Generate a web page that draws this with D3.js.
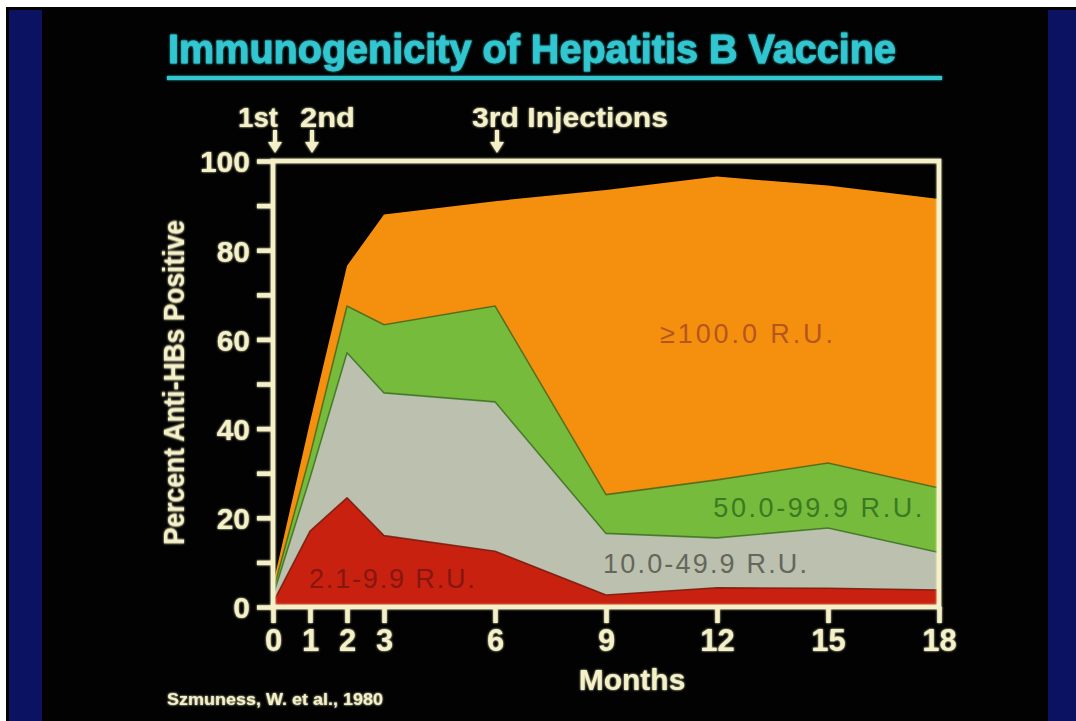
<!DOCTYPE html>
<html>
<head>
<meta charset="utf-8">
<script src="https://cdn.jsdelivr.net/npm/d3@7"></script>
<style>
  html, body { margin: 0; padding: 0; background: #ffffff; }
  svg { display: block; }
</style>
</head>
<body>
<svg id="chart" width="1076" height="721"></svg>
<script>
// ---- data ----
const months = [0, 1, 2, 3, 6, 9, 12, 15, 18];
const seriesNames = ["2.1-9.9 R.U.", "10.0-49.9 R.U.", "50.0-99.9 R.U.", "≥100.0 R.U."];
const lowRU   = [1.0, 17.0, 24.5, 16.0, 12.5, 2.7, 4.3, 4.2, 3.8];   // 2.1-9.9
const midRU   = [1.5, 12.0, 32.5, 32.0, 33.5, 13.8, 11.2, 13.5, 8.4]; // 10.0-49.9
const highRU  = [1.0, 5.0, 10.5, 15.3, 21.5, 8.7, 13.0, 14.6, 14.5];  // 50.0-99.9
const peakRU  = [1.5, 7.5, 9.0, 24.7, 23.5, 68.3, 68.0, 62.2, 64.8];  // >=100.0
const yTicks = [0, 10, 20, 30, 40, 50, 60, 70, 80, 90, 100];
const yTickLabels = ["0", "", "20", "", "40", "", "60", "", "80", "", "100"];
const xTickLabels = ["0", "1", "2", "3", "6", "9", "12", "15", "18"];
const injections = [
  { month: 0, label: "1st" },
  { month: 1, label: "2nd" },
  { month: 6, label: "3rd Injections" }
];
// label anchor positions in data units (month, percent)
const areaLabels = [
  { text: "2.1-9.9 R.U.",   month: 0.97, value: 4.3 },
  { text: "10.0-49.9 R.U.", month: 8.92, value: 7.6 },
  { text: "50.0-99.9 R.U.", month: 11.9, value: 20.2 },
  { text: "≥100.0 R.U.",    month: 10.46, value: 59.2 }
];
const titleText = "Immunogenicity of Hepatitis B Vaccine";
const yTitle = "Percent Anti-HBs Positive";
const xTitle = "Months";
const citation = "Szmuness, W. et al., 1980";

// ---- styling ----
const fills   = ["#c8210f", "#bcc0ae", "#76bb3c", "#f5900f"];
const edges   = ["#7a1a0c", "#3f7526", "#4f6a1c", "#f5900f"];
const labelCols = ["#861610", "#65675c", "#3b7a22", "#b5561c"];
const cream = "#f4f0c8";
const cyan = "#33c6d0";
const FONT = "'Liberation Sans', Arial, Helvetica, sans-serif";

const svg = d3.select("#chart");

// background: white page, black slide, navy side stripes
svg.append("rect").attr("x", 0).attr("y", 0).attr("width", 1076).attr("height", 721).attr("fill", "#ffffff");
svg.append("rect").attr("x", 6).attr("y", 7).attr("width", 1070).attr("height", 714).attr("fill", "#020202");
svg.append("rect").attr("x", 9).attr("y", 10).attr("width", 33).attr("height", 711).attr("fill", "#0b1262");
svg.append("rect").attr("x", 1048).attr("y", 10).attr("width", 28).attr("height", 711).attr("fill", "#0b1262");

// glow filter for slide text
const defs = svg.append("defs");
const glow = defs.append("filter").attr("id", "glow").attr("x", "-10%").attr("y", "-30%").attr("width", "120%").attr("height", "160%");
glow.append("feGaussianBlur").attr("in", "SourceGraphic").attr("stdDeviation", 1.2).attr("result", "b");
const merge = glow.append("feMerge");
merge.append("feMergeNode").attr("in", "b");
merge.append("feMergeNode").attr("in", "SourceGraphic");

// ---- scales ----
const x = d3.scaleLinear().domain([0, 18]).range([273, 939]);
const y = d3.scaleLinear().domain([0, 100]).range([607, 161]);

// ---- stacked data ----
const table = months.map((m, i) => ({
  month: m, s0: lowRU[i], s1: midRU[i], s2: highRU[i], s3: peakRU[i]
}));
const stack = d3.stack().keys(["s0", "s1", "s2", "s3"]);
const layers = stack(table);

const area = d3.area()
  .x(d => x(d.data.month))
  .y0(d => y(d[0]))
  .y1(d => y(d[1]))
  .curve(d3.curveLinear);
const topLine = d3.line()
  .x(d => x(d.data.month))
  .y(d => y(d[1]))
  .curve(d3.curveLinear);

const g = svg.append("g");
g.selectAll("path.area").data(layers).join("path")
  .attr("class", "area")
  .attr("d", area)
  .attr("fill", (d, i) => fills[i]);
g.selectAll("path.edge").data(layers.slice(0, 3)).join("path")
  .attr("class", "edge")
  .attr("d", topLine)
  .attr("fill", "none")
  .attr("stroke", (d, i) => edges[i])
  .attr("stroke-width", 1.6)
  .attr("stroke-linejoin", "round")
  .attr("opacity", 0.85);

// area labels
g.selectAll("text.alabel").data(areaLabels).join("text")
  .attr("class", "alabel")
  .attr("x", d => x(d.month))
  .attr("y", d => y(d.value))
  .attr("font-family", FONT)
  .attr("font-size", 27)
  .attr("fill", (d, i) => labelCols[i])
  .attr("textLength", (d, i) => [166, 204, 209, 173][i])
  .attr("lengthAdjust", "spacing")
  .text(d => d.text);

// ---- frame ----
svg.append("rect")
  .attr("x", x(0)).attr("y", y(100))
  .attr("width", x(18) - x(0)).attr("height", y(0) - y(100))
  .attr("fill", "none").attr("stroke", cream).attr("stroke-width", 4.5)
  .attr("filter", "url(#glow)");

// ---- axes ----
const yAxis = d3.axisLeft(y).tickValues(yTicks).tickSize(16).tickPadding(7)
  .tickFormat((d, i) => yTickLabels[i]);
const yg = svg.append("g").attr("transform", `translate(${x(0)},0)`).call(yAxis);
yg.select(".domain").remove();
yg.selectAll("line").attr("stroke", cream).attr("stroke-width", 4.5);
yg.selectAll("text").attr("fill", cream).attr("font-family", FONT).attr("font-weight", "bold")
  .attr("font-size", 30).attr("dy", "0.36em");
yg.attr("filter", "url(#glow)");

const xAxis = d3.axisBottom(x).tickValues(months).tickSize(16).tickPadding(6)
  .tickFormat((d, i) => xTickLabels[i]);
const xg = svg.append("g").attr("transform", `translate(0,${y(0)})`).call(xAxis);
xg.select(".domain").remove();
xg.selectAll("line").attr("stroke", cream).attr("stroke-width", 4.5);
xg.selectAll("text").attr("fill", cream).attr("font-family", FONT).attr("font-weight", "bold")
  .attr("font-size", 31).attr("dy", "0.72em");
xg.attr("filter", "url(#glow)");

// ---- injection markers ----
const inj = svg.append("g").attr("filter", "url(#glow)");
inj.selectAll("path.arrow").data(injections).join("path")
  .attr("class", "arrow")
  .attr("d", d => {
    const cx = x(d.month) + 2;
    return `M${cx - 2},130 L${cx + 2},130 L${cx + 2},142 L${cx + 7},142 L${cx},153 L${cx - 7},142 L${cx - 2},142 Z`;
  })
  .attr("fill", cream);
inj.selectAll("text").data(injections).join("text")
  .attr("x", (d, i) => [238, 300, 472][i])
  .attr("y", 127)
  .attr("font-family", FONT)
  .attr("font-weight", "bold")
  .attr("font-size", 28)
  .attr("fill", cream)
  .attr("textLength", (d, i) => [40, 55, 196][i])
  .attr("lengthAdjust", "spacingAndGlyphs")
  .text(d => d.label);

// ---- titles ----
svg.append("text")
  .attr("x", 168).attr("y", 63)
  .attr("font-family", FONT).attr("font-weight", "bold").attr("font-size", 40)
  .attr("fill", cyan).attr("stroke", cyan).attr("stroke-width", 0.8)
  .attr("textLength", 728).attr("lengthAdjust", "spacingAndGlyphs")
  .attr("filter", "url(#glow)")
  .text(titleText);
svg.append("rect").attr("x", 167).attr("y", 76).attr("width", 775).attr("height", 4)
  .attr("fill", cyan).attr("filter", "url(#glow)");

svg.append("text")
  .attr("transform", `translate(184,${(545 + 220) / 2}) rotate(-90)`)
  .attr("text-anchor", "middle")
  .attr("font-family", FONT).attr("font-weight", "bold").attr("font-size", 29)
  .attr("fill", cream)
  .attr("textLength", 325).attr("lengthAdjust", "spacingAndGlyphs")
  .attr("filter", "url(#glow)")
  .text(yTitle);

svg.append("text")
  .attr("x", 632).attr("y", 690)
  .attr("text-anchor", "middle")
  .attr("font-family", FONT).attr("font-weight", "bold").attr("font-size", 30)
  .attr("fill", cream)
  .attr("filter", "url(#glow)")
  .text(xTitle);

svg.append("text")
  .attr("x", 167).attr("y", 705)
  .attr("font-family", FONT).attr("font-weight", "bold").attr("font-size", 17)
  .attr("fill", cream)
  .attr("textLength", 216).attr("lengthAdjust", "spacingAndGlyphs")
  .attr("filter", "url(#glow)")
  .text(citation);
</script>
</body>
</html>
